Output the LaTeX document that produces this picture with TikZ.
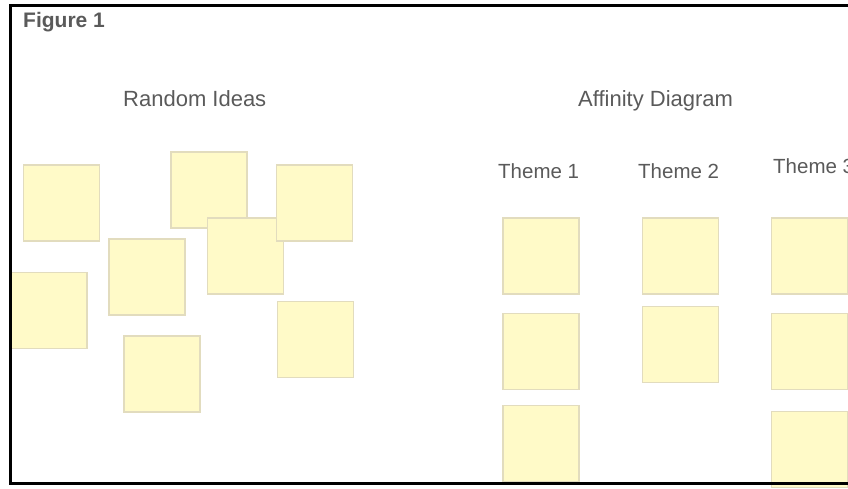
\documentclass[tikz,border=0pt]{standalone}
\usepackage{fontspec}
\setmainfont{Liberation Sans}
\usepackage{tikz}
\usetikzlibrary{positioning}
\definecolor{notefill}{HTML}{FFFAC8}
\definecolor{noteline}{HTML}{E2DCBE}
\definecolor{textgray}{HTML}{5A5A5A}

\begin{document}
\begin{tikzpicture}[
  x=1pt, y=-1pt,
  every node/.style={text=textgray, inner sep=0pt},
  note/.style={draw=noteline, fill=notefill, line width=1.1pt,
               minimum width=76pt, minimum height=76pt},
  heading/.style={font=\fontsize{22}{26}\selectfont, anchor=base west},
  theme/.style={font=\fontsize{20.5}{24}\selectfont, anchor=base west},
  figlabel/.style={font=\fontsize{21}{25}\selectfont\bfseries, anchor=base west}
]
\useasboundingbox (0,0) rectangle (848,488);
\clip (0,0) rectangle (848,488);
%% titles
\node[figlabel] (fig) at (23,27) {Figure 1};
\node[heading] (rand) at (123,106) {Random Ideas};
\node[heading] (aff) at (578,106) {Affinity Diagram};
\node[theme] (th1) at (498,178) {Theme 1};
\node[theme] (th2) at (638,178) {Theme 2};
\node[theme] (th3) at (773,173) {Theme 3};
%% random ideas
\node[note] (r1) at (61.5,203) {};
\node[note] (r2) at (209,190) {};
\node[note] (r5) at (245.5,256) {};
\node[note] (r3) at (314.5,203) {};
\node[note] (r4) at (147,277) {};
\node[note] (r6) at (49,310.5) {};
\node[note] (r7) at (162,374) {};
\node[note] (r8) at (315.5,339.5) {};
%% theme 1
\node[note] (a1) at (541,256) {};
\node[note, below=18pt of a1] (a2) {};
\node[note, below=15pt of a2] (a3) {};
%% theme 2
\node[note] (b1) at (680.5,256) {};
\node[note, below=11pt of b1] (b2) {};
%% theme 3
\node[note] (c1) at (809.5,256) {};
\node[note, below=18pt of c1] (c2) {};
\node[note, below=21pt of c2] (c3) {};
%% frame, open on the right
\draw[line width=3pt] (848,5) -- (10,5) -- (10,483) -- (848,483);
\end{tikzpicture}
\end{document}
